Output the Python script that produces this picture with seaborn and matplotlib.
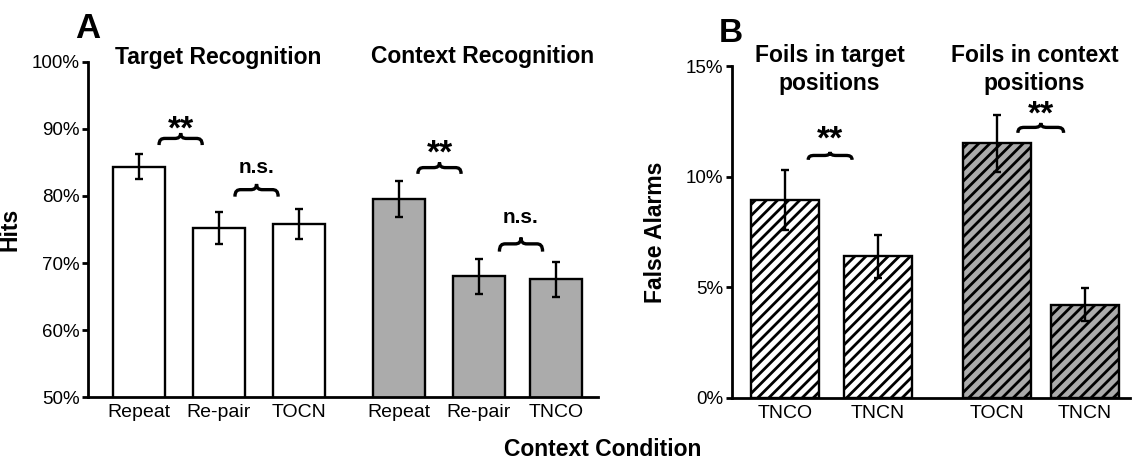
import matplotlib
matplotlib.use('Agg')
import matplotlib.pyplot as plt
import seaborn as sns
import pandas as pd
import numpy as np
from matplotlib.path import Path
from matplotlib.patches import PathPatch
from matplotlib.ticker import PercentFormatter

# Panel A: hits
hits_labels = ['Repeat', 'Re-pair', 'TOCN', 'Repeat', 'Re-pair', 'TNCO']
hits_group = ['target', 'target', 'target', 'context', 'context', 'context']
hits_mean = [84.4, 75.2, 75.8, 79.6, 68.0, 67.6]
hits_err = [1.9, 2.4, 2.2, 2.7, 2.6, 2.6]

# Panel B: false alarms
fa_labels = ['TNCO', 'TNCN', 'TOCN', 'TNCN']
fa_group = ['target', 'target', 'context', 'context']
fa_mean = [8.95, 6.4, 11.5, 4.2]
fa_err = [1.35, 0.97, 1.3, 0.75]

# layout (bar centres on a numeric axis)
hits_pos = [0, 1, 2, 3.25, 4.25, 5.22]
fa_pos = [0, 1, 2.275, 3.22]

sns.set_style('ticks')
plt.rcParams['font.family'] = ['Liberation Sans', 'DejaVu Sans']
plt.rcParams['hatch.linewidth'] = 2.0
plt.rcParams['hatch.color'] = 'black'
for k in ['text.color', 'axes.labelcolor', 'xtick.color', 'ytick.color']:
    plt.rcParams[k] = 'black'

palette = {'target': 'white', 'context': '#ababab'}
BIG = 16.5


def brace(ax, x0, x1, y, h, lw=2.4):
    """Horizontal curly brace, ends down, point up."""
    xm = (x0 + x1) / 2
    q = (x1 - x0) * 0.14
    ym = y + h * 0.55
    verts = [(x0, y), (x0, y + h * 0.45), (x0 + 0.4 * q, ym), (x0 + q, ym),
             (xm - q, ym),
             (xm - 0.4 * q, ym), (xm, ym + h * 0.1), (xm, y + h),
             (xm, ym + h * 0.1), (xm + 0.4 * q, ym), (xm + q, ym),
             (x1 - q, ym),
             (x1 - 0.4 * q, ym), (x1, y + h * 0.45), (x1, y)]
    codes = [Path.MOVETO, Path.CURVE4, Path.CURVE4, Path.CURVE4,
             Path.LINETO,
             Path.CURVE4, Path.CURVE4, Path.CURVE4,
             Path.CURVE4, Path.CURVE4, Path.CURVE4,
             Path.LINETO,
             Path.CURVE4, Path.CURVE4, Path.CURVE4]
    ax.add_patch(PathPatch(Path(verts, codes), fill=False, lw=lw,
                           edgecolor='black', clip_on=False, capstyle='butt'))


def draw_bars(ax, pos, mean, err, group, width, **kw):
    df = pd.DataFrame({'pos': pos, 'val': mean, 'group': group})
    native = np.min(np.diff(pos))
    sns.barplot(data=df, x='pos', y='val', hue='group', palette=palette,
                native_scale=True, dodge=False, width=width / native,
                errorbar=None, legend=False, edgecolor='black',
                linewidth=1.7, ax=ax, **kw)
    ax.errorbar(pos, mean, yerr=err, fmt='none', ecolor='black',
                elinewidth=1.7, capsize=3, capthick=1.7, zorder=5)


def style_axis(ax):
    for s in ['top', 'right']:
        ax.spines[s].set_visible(False)
    for s in ['left', 'bottom']:
        ax.spines[s].set_linewidth(2.0)
        ax.spines[s].set_color('black')
    ax.tick_params(axis='y', length=4, width=2.0, direction='out',
                   labelsize=13.5, pad=2)
    ax.tick_params(axis='x', length=0, labelsize=14, pad=5)
    ax.set_xlabel('')


def stars(ax, x, y):
    ax.text(x, y, '**', ha='center', va='baseline', fontsize=24, fontweight='bold')


def ns(ax, x, y):
    ax.text(x, y, 'n.s.', ha='center', va='baseline', fontsize=15, fontweight='bold')


fig = plt.figure(figsize=(11.32, 4.59), dpi=100)
axA = fig.add_axes([0.0777, 0.135, 0.4503, 0.73])
axB = fig.add_axes([0.6465, 0.1335, 0.3515, 0.7225])

# ---- Panel A
draw_bars(axA, hits_pos, hits_mean, hits_err, hits_group, 0.65)
axA.set_xlim(-0.64, 5.74)
axA.set_ylim(50, 100)
axA.set_yticks([50, 60, 70, 80, 90, 100])
axA.yaxis.set_major_formatter(PercentFormatter(decimals=0))
axA.set_xticks(hits_pos)
axA.set_xticklabels(hits_labels)
style_axis(axA)
axA.set_ylabel('Hits', fontsize=BIG, fontweight='bold')
axA.yaxis.set_label_coords(-0.131, 0.5)

brace(axA, 0.25, 0.79, 87.6, 1.8)
stars(axA, 0.52, 88.6)
brace(axA, 1.2, 1.74, 79.9, 1.9)
ns(axA, 1.47, 83.5)
brace(axA, 3.49, 4.03, 83.3, 1.7)
stars(axA, 3.76, 85.0)
brace(axA, 4.51, 5.05, 71.7, 2.1)
ns(axA, 4.78, 76.0)

axA.text(0.99, 99.7, 'Target Recognition', ha='center', va='baseline',
         fontsize=BIG, fontweight='bold', clip_on=False)
axA.text(4.3, 99.8, 'Context Recognition', ha='center', va='baseline',
         fontsize=BIG, fontweight='bold', clip_on=False)

# ---- Panel B
draw_bars(axB, fa_pos, fa_mean, fa_err, fa_group, 0.73, hatch='///')
axB.set_xlim(-0.57, 3.7)
axB.set_ylim(0, 15)
axB.set_yticks([0, 5, 10, 15])
axB.yaxis.set_major_formatter(PercentFormatter(decimals=0))
axB.set_xticks(fa_pos)
axB.set_xticklabels(fa_labels)
style_axis(axB)
axB.set_ylabel('False Alarms', fontsize=BIG, fontweight='bold')
axB.yaxis.set_label_coords(-0.163, 0.5)

brace(axB, 0.25, 0.72, 10.76, 0.36)
stars(axB, 0.485, 11.25)
brace(axB, 2.5, 2.99, 11.98, 0.45)
stars(axB, 2.745, 12.4)

for xc, first in [(0.48, 'Foils in target'), (2.68, 'Foils in context')]:
    axB.text(xc, 15.19, first, ha='center', va='baseline',
             fontsize=BIG, fontweight='bold', clip_on=False)
    axB.text(xc, 13.91, 'positions', ha='center', va='baseline',
             fontsize=BIG, fontweight='bold', clip_on=False)

fig.text(87.5 / 1132, 1 - 38 / 459, 'A', ha='center', va='baseline',
         fontsize=25, fontweight='bold')
fig.text(731 / 1132, 1 - 42 / 459, 'B', ha='center', va='baseline',
         fontsize=24, fontweight='bold')
fig.text(603 / 1132, 1 - 456 / 459, 'Context Condition', ha='center',
         va='baseline', fontsize=BIG, fontweight='bold')

fig.savefig('out.png', dpi=100)
